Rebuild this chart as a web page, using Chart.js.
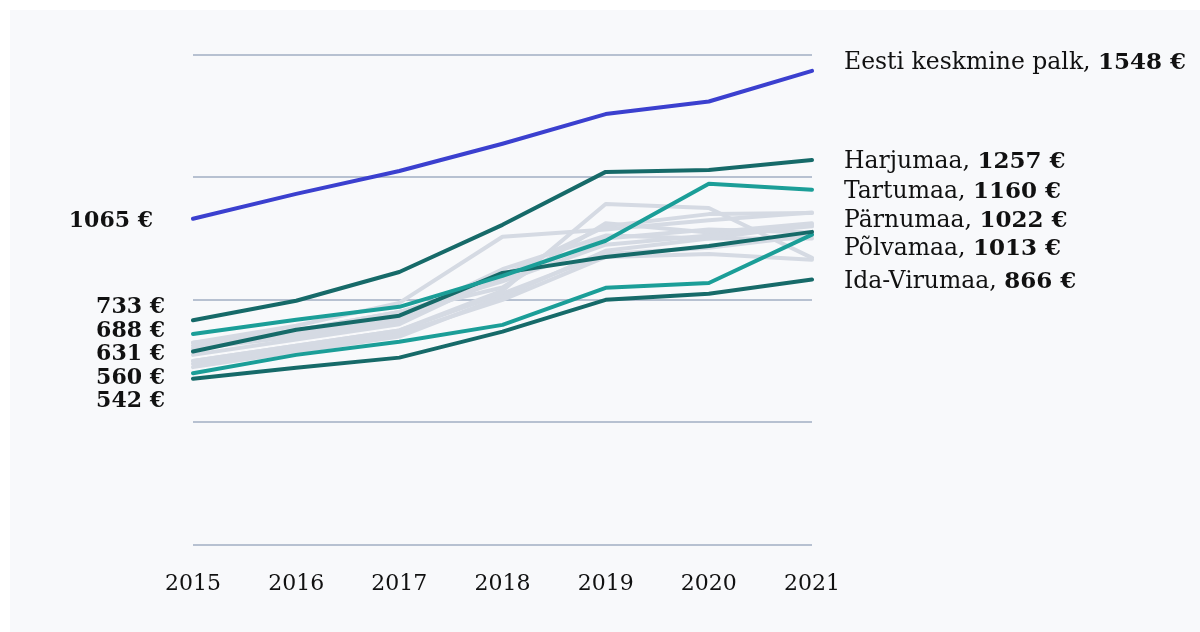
<!DOCTYPE html>
<html><head><meta charset="utf-8">
<script src="https://cdn.jsdelivr.net/npm/chart.js@4/dist/chart.umd.min.js"></script>
<style>html,body{margin:0;padding:0;background:#fff;overflow:hidden}#c{position:absolute;left:0;top:0}</style>
</head><body>
<canvas id="c" width="1200" height="632"></canvas>
<script>
const years = ['2015','2016','2017','2018','2019','2020','2021'];
const yTicks = [0, 400, 800, 1200, 1600];

// highlighted series
const eesti       = [1065, 1146, 1221, 1310, 1407, 1448, 1548];
const harjumaa    = [733, 797, 891, 1045, 1218, 1224, 1257];
const tartumaa    = [688, 735, 777, 878, 993, 1179, 1160];
const parnumaa    = [631, 702, 748, 888, 940, 976, 1022];
const polvamaa    = [560, 620, 663, 718, 839, 855, 1013];
const idaVirumaa  = [542, 578, 611, 696, 800, 820, 866];

// other counties (background)
const laaneVirumaa = [650, 700, 760, 860, 980, 1010, 1040];
const raplamaa     = [660, 715, 790, 1006, 1030, 1060, 1085];
const saaremaa     = [600, 650, 700, 830, 1113, 1100, 937];
const jarvamaa     = [620, 670, 720, 880, 1040, 1080, 1084];
const laanemaa     = [640, 690, 740, 900, 1010, 1000, 1045];
const jogevamaa    = [590, 640, 690, 800, 940, 950, 931];
const valgamaa     = [580, 630, 680, 810, 960, 1000, 1000];
const viljandimaa  = [640, 680, 730, 870, 1000, 1030, 1020];
const vorumaa      = [600, 650, 700, 820, 950, 970, 1010];
const hiiumaa      = [660, 700, 760, 840, 1050, 1020, 1050];

const FONT = "'DejaVu Serif', serif";
const BLUE = '#3b40cf', DARK = '#166a69', LIGHT = '#1b9e98', GRAY = '#d5dae3';

const highlighted = [
  {name:'Eesti keskmine palk', data:eesti, color:BLUE},
  {name:'Harjumaa', data:harjumaa, color:DARK},
  {name:'Tartumaa', data:tartumaa, color:LIGHT},
  {name:'Pärnumaa', data:parnumaa, color:DARK},
  {name:'Põlvamaa', data:polvamaa, color:LIGHT},
  {name:'Ida-Virumaa', data:idaVirumaa, color:DARK}
];
const others = [
  ['Lääne-Virumaa', laaneVirumaa], ['Raplamaa', raplamaa], ['Saaremaa', saaremaa],
  ['Järvamaa', jarvamaa], ['Läänemaa', laanemaa], ['Jõgevamaa', jogevamaa],
  ['Valgamaa', valgamaa], ['Viljandimaa', viljandimaa], ['Võrumaa', vorumaa], ['Hiiumaa', hiiumaa]
];

const datasets = [];
highlighted.forEach(h => datasets.push({label:h.name, data:h.data, borderColor:h.color, borderWidth:4, order:0}));
others.forEach(o => datasets.push({label:o[0], data:o[1], borderColor:GRAY, borderWidth:4, order:1}));

function spread(items, gap) {
  items.sort((a,b)=>a.y-b.y);
  let clusters = items.map(it => ({members:[it], y:it.y}));
  let changed = true;
  while (changed) {
    changed = false;
    for (let i = 0; i < clusters.length-1; i++) {
      const a = clusters[i], b = clusters[i+1];
      const aEnd = a.y + (a.members.length-1)*gap/2;
      const bStart = b.y - (b.members.length-1)*gap/2;
      if (bStart - aEnd < gap) {
        const m = a.members.concat(b.members);
        const mean = m.reduce((s,x)=>s+x.y,0)/m.length;
        clusters.splice(i,2,{members:m, y:mean});
        changed = true; break;
      }
    }
  }
  clusters.forEach(c => {
    const n = c.members.length;
    c.members.forEach((m,k) => { m.ly = c.y + (k-(n-1)/2)*gap; });
  });
  return items;
}

const bgPlugin = {
  id:'bg',
  beforeDraw(chart){
    const ctx = chart.ctx;
    ctx.save();
    ctx.fillStyle = '#ffffff';
    ctx.fillRect(0,0,chart.width,chart.height);
    ctx.fillStyle = '#f8f9fb';
    ctx.fillRect(10,10,chart.width-10,chart.height-10);
    ctx.restore();
  }
};

const labelPlugin = {
  id:'labels',
  afterDatasetsDraw(chart){
    const ctx = chart.ctx;
    const ys = chart.scales.y, xs = chart.scales.x;
    const last = years.length-1;
    ctx.save();
    ctx.fillStyle = '#111';
    ctx.textBaseline = 'middle';
    ctx.font = "bold 22px " + FONT;
    ctx.textAlign = 'right';
    const avg = highlighted[0];
    ctx.fillText(avg.data[0] + ' €', xs.left - 40, ys.getPixelForValue(avg.data[0]) + 3);
    const leftItems = spread(highlighted.slice(1).map(h => ({h, y: ys.getPixelForValue(h.data[0])})), 23.5);
    leftItems.forEach(it => ctx.fillText(it.h.data[0] + ' €', xs.left - 28, it.ly + 3));
    ctx.textAlign = 'left';
    const rx = xs.right + 32;
    const drawRight = (h, y) => {
      ctx.font = "23.5px " + FONT;
      const t1 = h.name + ', ';
      ctx.fillText(t1, rx, y);
      const w = ctx.measureText(t1).width;
      ctx.font = "bold 23px " + FONT;
      ctx.fillText(h.data[last] + ' €', rx + w, y);
    };
    drawRight(avg, ys.getPixelForValue(avg.data[last]) - 8);
    const rightItems = spread(highlighted.slice(1).map(h => ({h, y: ys.getPixelForValue(h.data[last])})), 28);
    rightItems.forEach(it => drawRight(it.h, it.ly + 2));
    ctx.restore();
  }
};

new Chart(document.getElementById('c'), {
  type:'line',
  data:{labels:years, datasets},
  options:{
    responsive:false,
    animation:false,
    devicePixelRatio:1,
    events:[],
    elements:{
      point:{radius:0},
      line:{tension:0, borderCapStyle:'round', borderJoinStyle:'round'}
    },
    layout:{padding:{left:193, right:388, top:55, bottom:9}},
    plugins:{legend:{display:false}, tooltip:{enabled:false}},
    scales:{
      x:{
        offset:false,
        grid:{display:false, drawTicks:false},
        border:{display:false},
        ticks:{color:'#111', font:{family:FONT, size:22}, padding:26, maxRotation:0, autoSkip:false}
      },
      y:{
        min:yTicks[0], max:yTicks[yTicks.length-1],
        afterBuildTicks(scale){ scale.ticks = yTicks.map(v=>({value:v})); },
        ticks:{display:false},
        grid:{color:'#b7c1d1', lineWidth:2, drawTicks:false},
        border:{display:false}
      }
    }
  },
  plugins:[bgPlugin, labelPlugin]
});
</script>
</body></html>
